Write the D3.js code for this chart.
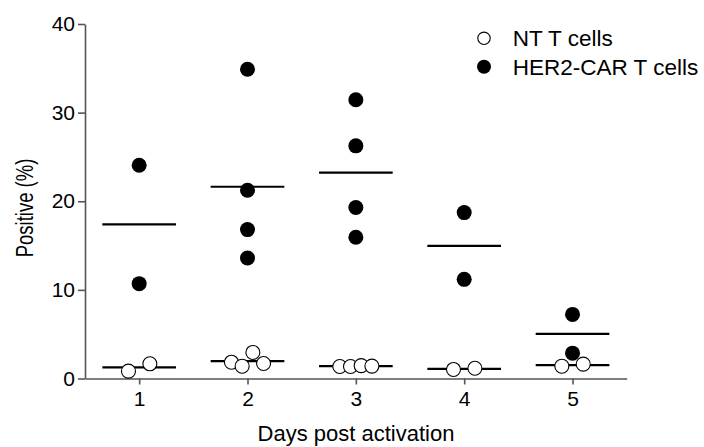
<!DOCTYPE html>
<html>
<head>
<meta charset="utf-8">
<script src="https://cdn.jsdelivr.net/npm/d3@7"></script>
<style>
  body { margin: 0; background: #fff; }
  text { font-family: Arial, "Liberation Sans", sans-serif; fill: #000; }
</style>
</head>
<body>
<div id="chart"></div>
<script>
// data (% positive per donor, in data order)
var days = [1, 2, 3, 4, 5];
var ntValues = [
  [0.83, 1.66],
  [1.84, 1.39, 2.94, 1.69],
  [1.35, 1.35, 1.45, 1.40],
  [1.02, 1.16],
  [1.39, 1.62]
];
var carValues = [
  [24.07, 10.70],
  [34.90, 21.24, 16.80, 13.60],
  [31.45, 26.25, 19.29, 15.93],
  [18.72, 11.19],
  [2.86, 7.23]
];
var yTicks = [0, 10, 20, 30, 40];
var seriesNames = ["NT T cells", "HER2-CAR T cells"];

var width = 704, height = 447;
var r = 7, step = 10.7;

var svg = d3.select("#chart")
  .append("svg")
    .attr("width", width)
    .attr("height", height);

// scales
var x = d3.scaleLinear()
  .domain([0.5, 5.5])
  .range([85, 626.7]);
var y = d3.scaleLinear()
  .domain([0, 40])
  .range([378.5, 24]);

// axes
var yAxis = svg.append("g")
  .attr("transform", "translate(85,0)")
  .call(d3.axisLeft(y).tickValues(yTicks).tickSize(7).tickSizeOuter(0).tickPadding(3));
var xAxis = svg.append("g")
  .attr("transform", "translate(0,378.5)")
  .call(d3.axisBottom(x).tickValues(days).tickFormat(d3.format("d")).tickSize(6).tickSizeOuter(0).tickPadding(7));

[xAxis, yAxis].forEach(function(a) {
  a.selectAll("path, line").attr("stroke", "#555").attr("stroke-width", 1.6);
  a.selectAll("text").style("font-size", "21px").attr("fill", "#000");
});

// axis titles
svg.append("text")
  .attr("x", 356)
  .attr("y", 441)
  .attr("text-anchor", "middle")
  .style("font-size", "22px")
  .text("Days post activation");

svg.append("text")
  .attr("transform", "translate(32.5,208) rotate(-90) scale(1,1.25)")
  .attr("text-anchor", "middle")
  .style("font-size", "18.5px")
  .text("Positive (%)");

// spread points that would overlap vertically (column scatter)
function layout(values, day) {
  var pts = values.map(function(v, i) { return {v: v, i: i, day: day, dx: 0}; });
  var sorted = pts.slice().sort(function(a, b) { return a.v - b.v; });
  var clusters = [], cur = [];
  sorted.forEach(function(p, k) {
    if (k > 0 && Math.abs(y(p.v) - y(sorted[k - 1].v)) >= 2 * r) {
      clusters.push(cur); cur = [];
    }
    cur.push(p);
  });
  if (cur.length) clusters.push(cur);
  clusters.forEach(function(c) {
    c.sort(function(a, b) { return a.i - b.i; });
    var n = c.length, s = n === 2 ? 2 * step : step;
    c.forEach(function(p, j) { p.dx = (j - (n - 1) / 2) * s; });
  });
  return pts;
}

var ntPts = [], carPts = [];
days.forEach(function(d, k) {
  ntPts = ntPts.concat(layout(ntValues[k], d));
  carPts = carPts.concat(layout(carValues[k], d));
});

// mean lines
var means = [];
days.forEach(function(d, k) {
  means.push({day: d, m: d3.mean(ntValues[k])});
  means.push({day: d, m: d3.mean(carValues[k])});
});

svg.append("g").selectAll("line")
  .data(means)
  .enter()
  .append("line")
    .attr("x1", function(d) { return x(d.day - 0.34); })
    .attr("x2", function(d) { return x(d.day + 0.34); })
    .attr("y1", function(d) { return y(d.m); })
    .attr("y2", function(d) { return y(d.m); })
    .attr("stroke", "#000")
    .attr("stroke-width", 2.2);

// points
svg.append("g").selectAll("circle")
  .data(carPts)
  .enter()
  .append("circle")
    .attr("cx", function(d) { return x(d.day) + d.dx; })
    .attr("cy", function(d) { return y(d.v); })
    .attr("r", 7.5)
    .attr("fill", "#000");

svg.append("g").selectAll("circle")
  .data(ntPts)
  .enter()
  .append("circle")
    .attr("cx", function(d) { return x(d.day) + d.dx; })
    .attr("cy", function(d) { return y(d.v); })
    .attr("r", r)
    .attr("fill", "#fff")
    .attr("stroke", "#000")
    .attr("stroke-width", 1.1);

// legend
var legend = svg.append("g").selectAll("g")
  .data(seriesNames)
  .enter()
  .append("g")
    .attr("transform", function(d, i) { return "translate(484," + (38.3 + i * 28.4) + ")"; });

legend.append("circle")
  .attr("r", function(d, i) { return i === 0 ? 6.2 : 7; })
  .attr("fill", function(d, i) { return i === 0 ? "#fff" : "#000"; })
  .attr("stroke", "#000")
  .attr("stroke-width", function(d, i) { return i === 0 ? 1.1 : 0; });

legend.append("text")
  .attr("x", 28.7)
  .attr("dy", "0.35em")
  .style("font-size", "22.5px")
  .text(function(d) { return d; });
</script>
</body>
</html>
